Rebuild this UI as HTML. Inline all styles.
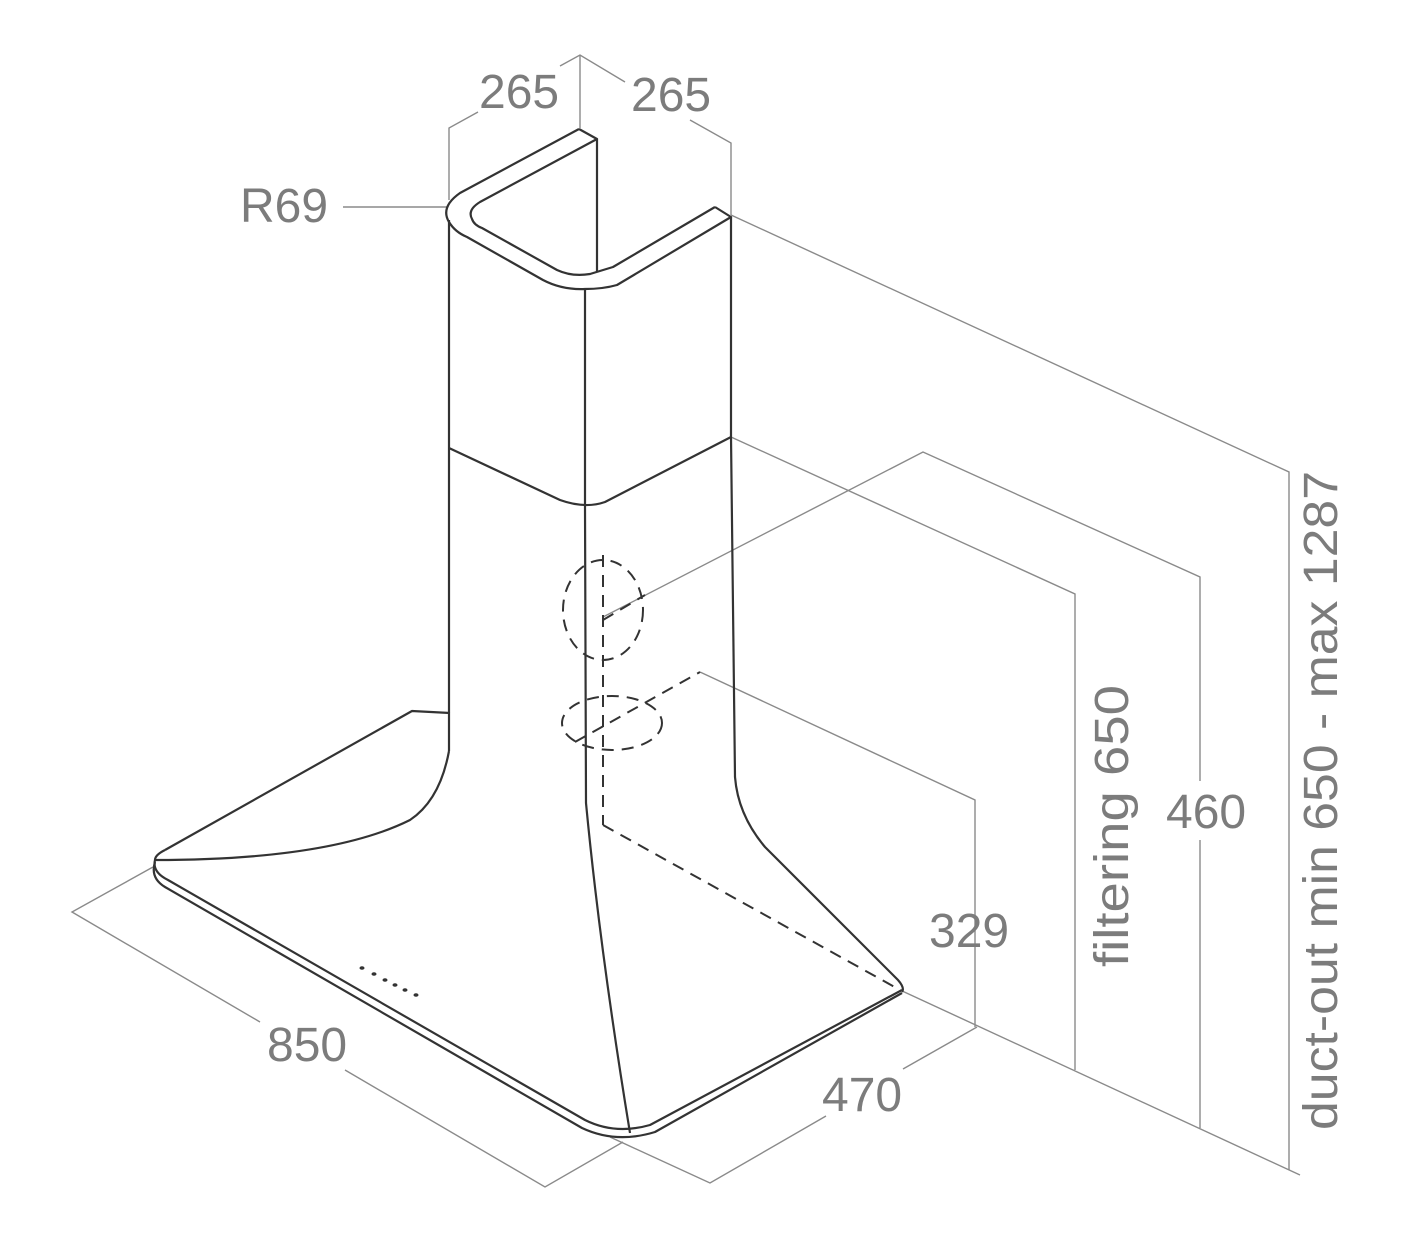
<!DOCTYPE html>
<html><head><meta charset="utf-8"><style>
html,body{margin:0;padding:0;background:#fff;}
svg{display:block;}
text{font-family:"Liberation Sans","DejaVu Sans",sans-serif;fill:#7c7c7c;}
</style></head><body>
<svg width="1412" height="1241" viewBox="0 0 1412 1241" xmlns="http://www.w3.org/2000/svg">
<g fill="none" stroke="#8a8a8a" stroke-width="1.4">
  <!-- 265 dims -->
  <polyline points="449,200 449,128 478,112"/>
  <polyline points="560,66 580,55 625,82"/>
  <line x1="580" y1="55" x2="580" y2="128"/>
  <polyline points="690,120 731,143 731,215"/>
  <!-- R69 -->
  <line x1="343" y1="207" x2="447" y2="207"/>
  <!-- duct-out -->
  <polyline points="731,215 1289,472 1289,1170"/>
  <!-- 460 -->
  <polyline points="603,617 923,452 1200,577 1200,781"/>
  <line x1="1200" y1="840" x2="1200" y2="1128"/>
  <!-- filtering -->
  <polyline points="731,437 1075,594 1075,1070"/>
  <!-- 329 -->
  <polyline points="700,672 975,800 975,1027"/>
  <!-- base line -->
  <line x1="900" y1="990" x2="1300" y2="1175"/>
  <!-- 470 -->
  <line x1="977" y1="1027" x2="903" y2="1069"/>
  <polyline points="826,1116 710,1183 610,1137"/>
  <!-- 850 -->
  <polyline points="153,867 72,912 260,1022"/>
  <polyline points="345,1070 545,1187 623,1142"/>
</g>
<g fill="none" stroke="#333" stroke-width="2.2" stroke-linejoin="round">
  <!-- chimney top outer -->
  <path d="M579,129 L460,193 Q440,207 449,222 Q455,232 467,237 L543,280 Q562,290 585,289 Q603,289 617,285 L731,217 L715,207"/>
  <!-- chimney top inner -->
  <path d="M579,129 L597,139 L480,202 Q467,210 472,219 Q474,225 482,228 L557,270 Q572,277 590,274 L613,267 L715,207"/>
  <line x1="597" y1="139" x2="597" y2="272"/>
  <!-- chimney verticals -->
  <line x1="449" y1="220" x2="449" y2="751"/>
  <line x1="731" y1="217" x2="731" y2="437"/>
  <line x1="585" y1="289" x2="585" y2="507"/>
  <!-- joint -->
  <path d="M449,448 L560,500 Q585,509 605,502 L731,437"/>
  <!-- lower right -->
  <path d="M731,437 L735,777 Q738,815 765,847 L898,980 Q905,988 902,992"/>
  <!-- center -->
  <path d="M585,507 L586,803 Q600,950 630,1133"/>
  <!-- left upper -->
  <path d="M449,751 Q440,800 410,820 Q330,860 155,860"/>
  <polyline points="450,713 412,711 165,850"/>
  <path d="M165,850 Q155,855 155,860"/>
  <!-- rim -->
  <path d="M155,860 Q152,872 168,880 L585,1120 Q615,1135 650,1125 L902,990"/>
  <path d="M155,862 Q150,878 165,887 L582,1128 Q616,1144 655,1132 L902,993"/>
</g>
<!-- buttons -->
<g fill="#333">
  <ellipse cx="362" cy="968" rx="2.5" ry="1.8"/>
  <ellipse cx="374" cy="974" rx="2.5" ry="1.8"/>
  <ellipse cx="385" cy="980" rx="2.5" ry="1.8"/>
  <ellipse cx="395" cy="985" rx="2.5" ry="1.8"/>
  <ellipse cx="405" cy="990" rx="2.5" ry="1.8"/>
  <ellipse cx="416" cy="995" rx="2.5" ry="1.8"/>
</g>
<!-- dashed -->
<g fill="none" stroke="#333" stroke-width="2" stroke-dasharray="12,8">
  <ellipse cx="603" cy="610" rx="40" ry="50"/>
  <ellipse cx="612" cy="723" rx="50" ry="27"/>
  <line x1="603" y1="555" x2="603" y2="825"/>
  <line x1="603" y1="825" x2="900" y2="990"/>
  <line x1="575" y1="742" x2="700" y2="672"/>
  <line x1="603" y1="620" x2="645" y2="595"/>
</g>
<!-- text -->
<g font-size="48">
  <text x="479" y="108">265</text>
  <text x="631" y="111">265</text>
  <text x="240" y="222">R69</text>
  <text x="267" y="1061">850</text>
  <text x="822" y="1111">470</text>
  <text x="929" y="947">329</text>
  <text x="1166" y="828">460</text>
  <text transform="translate(1128,967) rotate(-90)" textLength="282" lengthAdjust="spacingAndGlyphs">filtering 650</text>
  <text transform="translate(1337,1130) rotate(-90)" textLength="659" lengthAdjust="spacingAndGlyphs">duct-out min 650 - max 1287</text>
</g>
</svg>
</body></html>
